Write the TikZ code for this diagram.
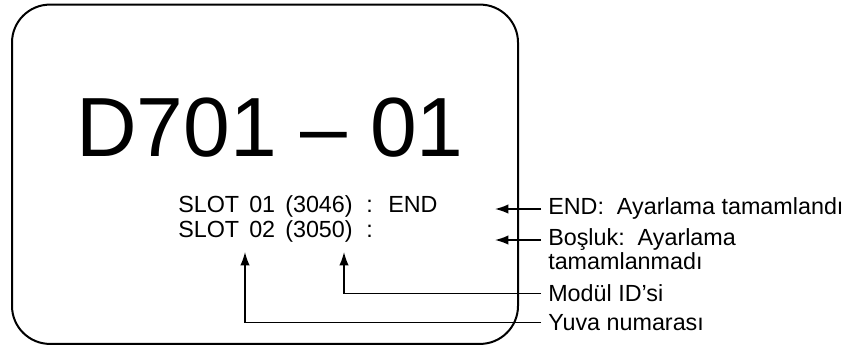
\documentclass[tikz,border=0pt]{standalone}
\usepackage{fontspec}
\setmainfont{Liberation Sans}
\usetikzlibrary{positioning,arrows.meta}

\begin{document}
\begin{tikzpicture}[x=0.75pt,y=-0.75pt,font=\fontsize{17.5}{20}\selectfont,
  screen/.style={draw,line width=1.5pt,rounded corners=28.5pt,inner sep=0pt,
    minimum width=379.5pt,minimum height=254.5pt},
  field/.style={anchor=base west,inner sep=0pt},
  lbl/.style={anchor=base west,inner xsep=5.25pt,inner ysep=0pt},
  callout/.style={line width=1.1pt,-{Latex[length=10pt,width=7pt]}}]
\useasboundingbox (0,0) rectangle (864,347);
\node[screen] (screen) at (265,174.25) {};
\node[anchor=base,inner sep=0pt,font=\fontsize{63}{70}\selectfont] (title) at (270,156) {D701 – 01};
% slot rows
\node[field] (slotA) at (178,212) {SLOT};
\node[field] (slotA-num) at (249,212) {01};
\node[field] (slotA-id) at (285,212) {(3046)};
\node[field] (slotA-sep) at (366,212) {:};
\node[field] (slotA-state) at (388,212) {END};
\node[field] (slotB) at (178,237) {SLOT};
\node[field] (slotB-num) at (249,237) {02};
\node[field] (slotB-id) at (285,237) {(3050)};
\node[field] (slotB-sep) at (366,237) {:};
% notes
\node[lbl] (endnote) at (541,214) {END:\ \ Ayarlama tamamlandı};
\node[lbl] (bosluk) at (541,245) {Boşluk:\ \ Ayarlama};
\node[lbl] (bosluk-cont) at ([yshift=-18.5pt]bosluk.base west) {tamamlanmadı};
\node[lbl] (modul) at (541,301.5) {Modül ID’si};
\node[lbl] (yuva) at (541,330.5) {Yuva numarası};
\coordinate (endTip) at (495,209);
\coordinate (boslukTip) at (495,240);
\coordinate (modulTip) at (344,252);
\coordinate (yuvaTip) at (245,252);
\draw[callout] ([yshift=3.75pt]endnote.base west) -- (endTip);
\draw[callout] ([yshift=3.75pt]bosluk.base west) -- (boslukTip);
\draw[callout] ([yshift=6.2pt]modul.base west) -| (modulTip);
\draw[callout] ([yshift=6.2pt]yuva.base west) -| (yuvaTip);
\end{tikzpicture}
\end{document}
